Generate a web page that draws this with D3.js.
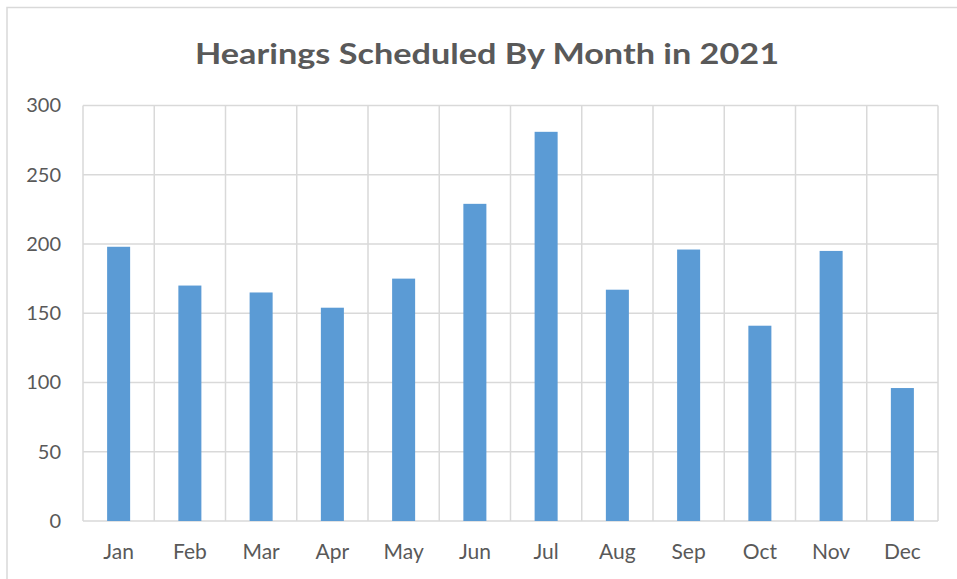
<!DOCTYPE html>
<html>
<head>
<meta charset="utf-8">
<script src="https://cdn.jsdelivr.net/npm/d3@7"></script>
<style>
  body { margin: 0; background: #fff; }
  text { font-family: Lato, "Open Sans", sans-serif; fill: #595959; }
</style>
</head>
<body>
<div id="chart-area"></div>
<script>
// data
const months = ['Jan', 'Feb', 'Mar', 'Apr', 'May', 'Jun', 'Jul', 'Aug', 'Sep', 'Oct', 'Nov', 'Dec'];
const hearings = [198, 170, 165, 154, 175, 229, 281, 167, 196, 141, 195, 96];
const yTicks = [0, 50, 100, 150, 200, 250, 300];
const chartTitle = 'Hearings Scheduled By Month in 2021';

const W = 957, H = 579;
const margins = { left: 83, right: 19, top: 105.5, bottom: 58 };
const width = W - margins.left - margins.right;
const height = H - margins.top - margins.bottom;

const svg = d3.select('#chart-area')
  .append('svg')
  .attr('width', W)
  .attr('height', H);

// chart frame (only top and left edges are visible in the picture)
svg.append('rect')
  .attr('x', 7)
  .attr('y', 7.5)
  .attr('width', 1200)
  .attr('height', 1200)
  .attr('fill', 'none')
  .attr('stroke', '#d9d9d9')
  .attr('stroke-width', 1.5);

const g = svg.append('g')
  .attr('transform', 'translate(' + margins.left + ', ' + margins.top + ')');

const x = d3.scaleBand()
  .domain(months)
  .range([0, width])
  .paddingInner(0.677)
  .paddingOuter(0.3385);

const y = d3.scaleLinear()
  .domain([0, 300])
  .range([height, 0]);

// horizontal gridlines
g.append('g')
  .selectAll('line')
  .data(yTicks)
  .enter()
  .append('line')
  .attr('x1', 0)
  .attr('x2', width)
  .attr('y1', (d) => y(d))
  .attr('y2', (d) => y(d))
  .attr('stroke', '#d9d9d9')
  .attr('stroke-width', 1.5);

// vertical gridlines at category boundaries
const step = width / months.length;
g.append('g')
  .selectAll('line')
  .data(d3.range(months.length + 1))
  .enter()
  .append('line')
  .attr('x1', (i) => i * step)
  .attr('x2', (i) => i * step)
  .attr('y1', y(300))
  .attr('y2', y(0))
  .attr('stroke', '#d9d9d9')
  .attr('stroke-width', 1.5);

// bars
g.selectAll('rect.bar')
  .data(hearings)
  .enter()
  .append('rect')
  .attr('class', 'bar')
  .attr('x', (d, i) => x(months[i]))
  .attr('y', (d) => y(d))
  .attr('width', x.bandwidth())
  .attr('height', (d) => y(0) - y(d))
  .attr('fill', '#5b9bd5');

// axes, drawn with d3 axes but with the domain/ticks hidden
const yAxis = d3.axisLeft(y).tickValues(yTicks).tickSize(0).tickPadding(22);
g.append('g')
  .attr('class', 'y axis')
  .call(yAxis)
  .call((s) => s.select('.domain').remove())
  .selectAll('text')
  .attr('font-size', '20px')
  .attr('fill', '#595959')
  .attr('dy', '0.32em');

const xAxis = d3.axisBottom(x).tickSize(0).tickPadding(23);
g.append('g')
  .attr('class', 'x axis')
  .attr('transform', 'translate(0, ' + height + ')')
  .call(xAxis)
  .call((s) => s.select('.domain').remove())
  .selectAll('text')
  .attr('font-size', '21px')
  .attr('fill', '#595959');

svg.selectAll('.axis text').style('font-family', 'Lato, "Open Sans", sans-serif');

// title
const title = svg.append('text')
  .attr('x', 487)
  .attr('y', 64)
  .attr('text-anchor', 'middle')
  .attr('font-size', '29px')
  .attr('font-weight', 'bold')
  .text(chartTitle);

// stretch to the width of the original title
title.attr('textLength', 584).attr('lengthAdjust', 'spacingAndGlyphs');
</script>
</body>
</html>
